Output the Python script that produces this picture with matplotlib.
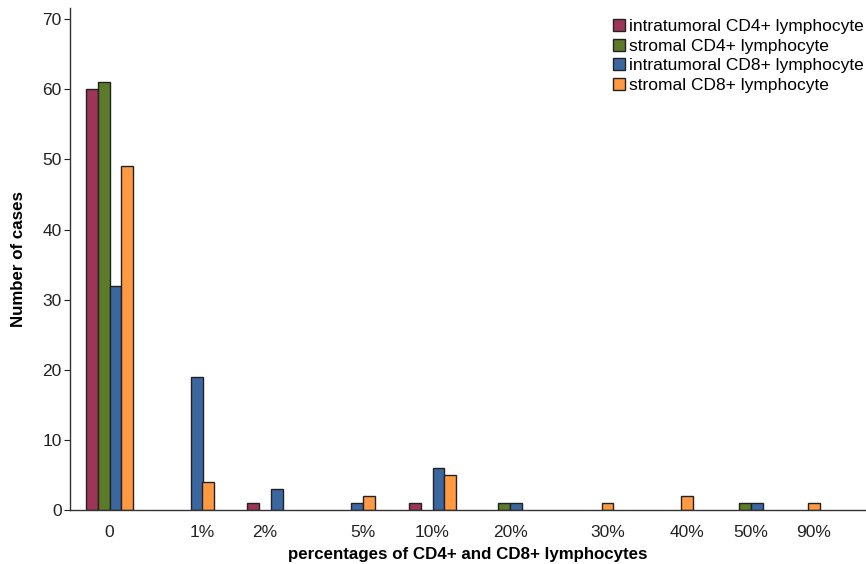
import numpy as np
import matplotlib.pyplot as plt

plt.rcParams['font.family'] = ['Liberation Sans', 'DejaVu Sans']

# Percentage categories and their place along the x axis
categories = ['0', '1%', '2%', '5%', '10%', '20%', '30%', '40%', '50%', '90%']
positions = [109.5, 202.5, 265, 363, 432.5, 510, 607.5, 687, 751, 814]

# Number of cases per category for each lymphocyte group
series_names = ['intratumoral CD4+ lymphocyte', 'stromal CD4+ lymphocyte',
                'intratumoral CD8+ lymphocyte', 'stromal CD8+ lymphocyte']
intra_cd4 = [60, 0, 1, 0, 1, 0, 0, 0, 0, 0]
stromal_cd4 = [61, 0, 0, 0, 0, 1, 0, 0, 1, 0]
intra_cd8 = [32, 19, 3, 1, 6, 1, 0, 0, 1, 0]
stromal_cd8 = [49, 4, 0, 2, 5, 0, 1, 2, 0, 1]

colors = ['#9c3558', '#5b7a2a', '#3b67a1', '#ff9a42']
series = [intra_cd4, stromal_cd4, intra_cd8, stromal_cd8]

fig = plt.figure(figsize=(8.66, 5.64), dpi=100)
ax = fig.add_axes([70 / 866, 54 / 564, 796 / 866, 502 / 564])

width = 11.8
handles = [None] * 4
for i, center in enumerate(positions):
    vals = [s[i] for s in series]
    # zero counts at the edges of a group are left out, the group is centred
    nz = [k for k, v in enumerate(vals) if v > 0]
    lo, hi = min(nz), max(nz)
    start = center - (hi - lo + 1) * width / 2
    for k in range(lo, hi + 1):
        if vals[k] == 0:
            continue
        b = ax.bar(start + (k - lo + 0.5) * width, vals[k], width=width,
                   color=colors[k], edgecolor='#222222', linewidth=1.0,
                   label=series_names[k])
        handles[k] = b

ax.set_xlim(70, 866)
ax.set_ylim(0, 71.6)
ax.set_yticks(range(0, 71, 10))
ax.set_xticks(positions)
ax.set_xticklabels(categories)
ax.tick_params(axis='x', length=0, pad=11, labelsize=12.5, colors='#222222')
ax.tick_params(axis='y', length=4, width=0.8, pad=2, labelsize=12.5, colors='#222222')

for side in ['top', 'right']:
    ax.spines[side].set_visible(False)
for side in ['left', 'bottom']:
    ax.spines[side].set_linewidth(1.0)
    ax.spines[side].set_color('#333333')

ax.set_xlabel('percentages of CD4+ and CD8+ lymphocytes', fontsize=12.2,
              fontweight='bold', labelpad=5)
ax.set_ylabel('Number of cases', fontsize=12.2, fontweight='bold', labelpad=12)

leg = ax.legend(handles, series_names, loc='upper right', bbox_to_anchor=(1.012, 1.002),
                frameon=False, fontsize=12.5, handlelength=0.7, handleheight=0.7,
                handletextpad=0.2, labelspacing=0.25, borderaxespad=0.3)

fig.savefig('out.png', dpi=100)
